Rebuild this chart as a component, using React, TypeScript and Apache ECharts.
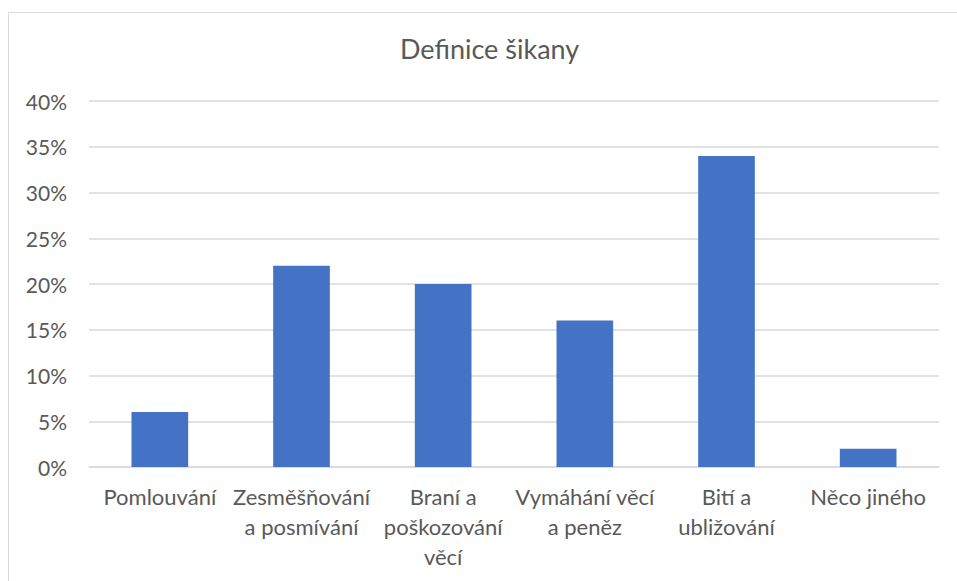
import React, { useEffect, useRef } from "react";
import * as echarts from "echarts";

const categories = [
  "Pomlouvání",
  "Zesměšňování\na posmívání",
  "Braní a\npoškozování\nvěcí",
  "Vymáhání věcí\na peněz",
  "Bití a\nubližování",
  "Něco jiného",
];
const values = [6, 22, 20, 16, 34, 2];
const titleText = "Definice šikany";

export default function App() {
  const ref = useRef<HTMLDivElement>(null);
  useEffect(() => {
    if (!ref.current) return;
    const chart = echarts.init(ref.current, undefined, { renderer: "svg" });
    const font = "Lato, 'Open Sans', sans-serif";
    chart.setOption({
      animation: false,
      backgroundColor: "#ffffff",
      title: {
        text: titleText,
        left: 395,
        top: 30,
        textStyle: { color: "#595959", fontFamily: font, fontSize: 27, fontWeight: "normal" },
      },
      graphic: [
        {
          type: "rect",
          shape: { x: 8.5, y: 12.5, width: 1000, height: 700 },
          style: { fill: "none", stroke: "#d9d9d9", lineWidth: 1 },
          silent: true,
        },
      ],
      grid: { left: 89, right: 18, top: 101, bottom: 114 },
      xAxis: {
        type: "category",
        data: categories,
        axisLine: { lineStyle: { color: "#d9d9d9", width: 1.5 } },
        axisTick: { show: false },
        axisLabel: {
          color: "#595959",
          fontFamily: font,
          fontSize: 22,
          lineHeight: 30,
          margin: 14,
          interval: 0,
          align: "center",
        },
      },
      yAxis: {
        type: "value",
        min: 0,
        max: 40,
        interval: 5,
        axisLine: { show: false },
        axisTick: { show: false },
        splitLine: { lineStyle: { color: "#d9d9d9", width: 1.5 } },
        axisLabel: {
          color: "#595959",
          fontFamily: font,
          fontSize: 21,
          margin: 22,
          formatter: "{value}%",
        },
      },
      series: [
        {
          type: "bar",
          data: values,
          barWidth: "40%",
          itemStyle: { color: "#4472C4" },
        },
      ],
    });
    return () => chart.dispose();
  }, []);
  return (
    <div
      ref={ref}
      style={{ position: "fixed", left: 0, top: 0, width: 957, height: 581 }}
    />
  );
}
